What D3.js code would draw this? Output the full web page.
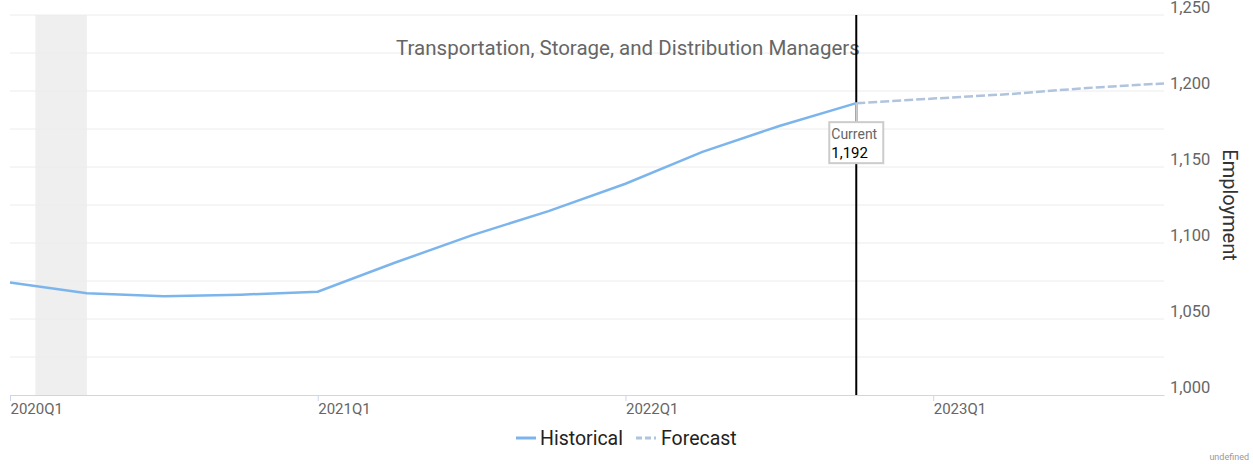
<!DOCTYPE html>
<html>
<head>
<meta charset="utf-8">
<script src="https://cdn.jsdelivr.net/npm/d3@7"></script>
<style>
  body { margin: 0; background: #fff; }
  text { font-family: Roboto, "Open Sans", sans-serif; }
</style>
</head>
<body>
<script>
// data
let quarters = ['2020Q1','2020Q2','2020Q3','2020Q4','2021Q1','2021Q2','2021Q3','2021Q4',
                '2022Q1','2022Q2','2022Q3','2022Q4','2023Q1','2023Q2','2023Q3','2023Q4'];
let historical = [1074, 1067, 1065, 1066, 1068, 1087, 1105, 1121, 1139, 1160, 1177, 1192];
let forecast = [1192, 1195, 1198, 1202, 1205];   // starts at 2022Q4
let forecastStart = 11;
let currentIndex = 11;
let currentValue = 1192;
let labelTicks = ['2020Q1', '2021Q1', '2022Q1', '2023Q1'];
let yTicks = [1000, 1050, 1100, 1150, 1200, 1250];
let recession = [0.33, 1];   // quarter index range shaded

let width = 1253, height = 464;
let margin = { top: 15, bottom: 69, left: 10, right: 89 };

let svg = d3.select('body').append('svg')
  .attr('width', width)
  .attr('height', height);

let x = d3.scaleLinear()
  .domain([0, quarters.length - 1])
  .range([margin.left, width - margin.right]);

let y = d3.scaleLinear()
  .domain([1000, 1250])
  .range([height - margin.bottom, margin.top]);

// recession band
svg.append('rect')
  .attr('x', x(recession[0]))
  .attr('y', y(1250))
  .attr('width', x(recession[1]) - x(recession[0]))
  .attr('height', y(1000) - y(1250))
  .attr('fill', '#efefef');

// grid lines every 25
let grid = d3.range(1025, 1251, 25);
svg.append('g').selectAll('line')
  .data(grid)
  .join('line')
  .attr('x1', x(0)).attr('x2', x(quarters.length - 1))
  .attr('y1', d => y(d)).attr('y2', d => y(d))
  .attr('stroke', '#ececec');

// x axis
let xAxis = svg.append('g')
  .attr('transform', `translate(0, ${y(1000)})`)
  .call(d3.axisBottom(x)
    .tickValues(labelTicks.map(q => quarters.indexOf(q)))
    .tickFormat(i => quarters[i])
    .tickSize(6)
    .tickSizeOuter(0));
xAxis.select('.domain').attr('stroke', '#ccd6eb');
xAxis.selectAll('.tick line').attr('stroke', '#ccd6eb');
xAxis.selectAll('.tick text')
  .attr('text-anchor', 'start')
  .attr('x', 0)
  .attr('y', 8)
  .attr('fill', '#666')
  .style('font-size', '15px');

// y axis labels on the right
let yAxis = svg.append('g')
  .attr('transform', `translate(${x(quarters.length - 1)}, 0)`)
  .call(d3.axisRight(y).tickValues(yTicks).tickSize(0).tickFormat(d3.format(',')));
yAxis.select('.domain').remove();
yAxis.selectAll('.tick text')
  .attr('x', 6)
  .attr('dy', '-0.15em')
  .attr('fill', '#666')
  .style('font-size', '16.5px');

svg.append('text')
  .attr('transform', `translate(1223, ${(y(1000) + y(1250)) / 2}) rotate(90)`)
  .attr('text-anchor', 'middle')
  .attr('fill', '#333')
  .style('font-size', '20px')
  .text('Employment');

// title
svg.append('text')
  .attr('x', 628)
  .attr('y', 55)
  .attr('text-anchor', 'middle')
  .attr('fill', '#666')
  .style('font-size', '20.5px')
  .text('Transportation, Storage, and Distribution Managers');

// current line
svg.append('line')
  .attr('x1', x(currentIndex)).attr('x2', x(currentIndex))
  .attr('y1', y(1250)).attr('y2', y(1000))
  .attr('stroke', '#000')
  .attr('stroke-width', 2);

// lines
let line = d3.line()
  .x(d => x(d.i))
  .y(d => y(d.v));

svg.append('path')
  .datum(historical.map((v, i) => ({ i, v })))
  .attr('d', line)
  .attr('fill', 'none')
  .attr('stroke', '#7cb5ec')
  .attr('stroke-width', 2.5);

svg.append('path')
  .datum(forecast.map((v, i) => ({ i: i + forecastStart, v })))
  .attr('d', line)
  .attr('fill', 'none')
  .attr('stroke', '#b0c4de')
  .attr('stroke-width', 2.5)
  .attr('stroke-dasharray', '9,3');

// current label
let cx = x(currentIndex), cy = y(currentValue);
svg.append('line')
  .attr('x1', cx).attr('x2', cx)
  .attr('y1', cy).attr('y2', cy + 20)
  .attr('stroke', '#ccc')
  .attr('stroke-width', 2);
svg.append('rect')
  .attr('x', cx - 27).attr('y', cy + 19)
  .attr('width', 54).attr('height', 41)
  .attr('fill', '#fff')
  .attr('stroke', '#ccc')
  .attr('stroke-width', 2);
svg.append('text')
  .attr('x', cx - 25).attr('y', cy + 36)
  .attr('fill', '#666')
  .style('font-size', '14px')
  .text('Current');
svg.append('text')
  .attr('x', cx - 25).attr('y', cy + 55)
  .attr('fill', '#000')
  .style('font-size', '15px')
  .text(d3.format(',')(currentValue));

// legend
let legend = svg.append('g').attr('transform', 'translate(0, 438)');
legend.append('line')
  .attr('x1', 516).attr('x2', 536).attr('y1', 0).attr('y2', 0)
  .attr('stroke', '#7cb5ec').attr('stroke-width', 3);
legend.append('text')
  .attr('x', 540).attr('y', 7)
  .attr('fill', '#222')
  .style('font-size', '19.5px')
  .text('Historical');
legend.append('line')
  .attr('x1', 636).attr('x2', 656).attr('y1', 0).attr('y2', 0)
  .attr('stroke', '#b0c4de').attr('stroke-width', 3)
  .attr('stroke-dasharray', '6,3');
legend.append('text')
  .attr('x', 661).attr('y', 7)
  .attr('fill', '#222')
  .style('font-size', '19.5px')
  .text('Forecast');

svg.append('text')
  .attr('x', 1249).attr('y', 460)
  .attr('text-anchor', 'end')
  .attr('fill', '#999')
  .style('font-size', '9px')
  .text('undefined');
</script>
</body>
</html>
